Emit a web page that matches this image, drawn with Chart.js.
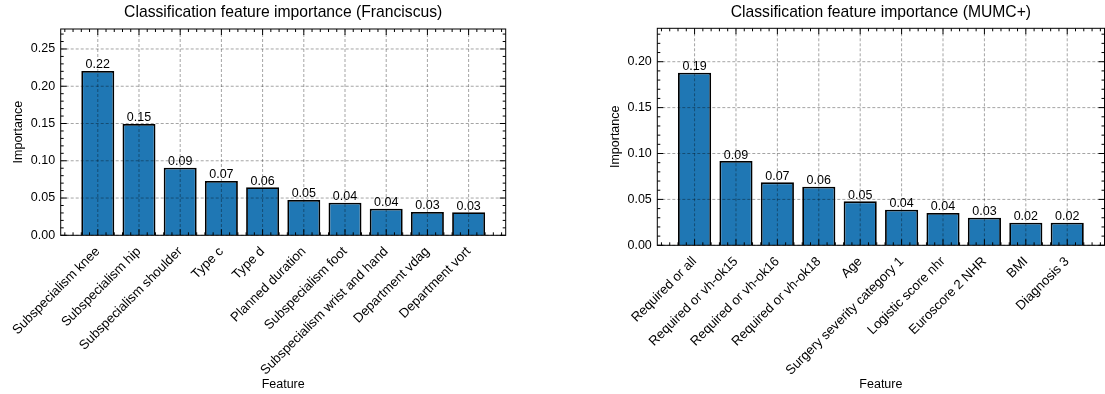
<!DOCTYPE html>
<html>
<head>
<meta charset="utf-8">
<script src="https://cdn.jsdelivr.net/npm/chart.js@4.4.1/dist/chart.umd.min.js"></script>
<style>
  html, body { margin: 0; padding: 0; background: #fff; overflow: hidden; }
  .panel { position: absolute; top: 0; height: 394px; }
</style>
</head>
<body>
<div class="panel" style="left:0;width:552px"><canvas id="left" width="552" height="394"></canvas></div>
<div class="panel" style="left:555px;width:553px"><canvas id="right" width="553" height="394"></canvas></div>
<script>
// Franciscus feature importances
const franciscusFeatures = [
    "Subspecialism knee", "Subspecialism hip", "Subspecialism shoulder", "Type c", "Type d",
    "Planned duration", "Subspecialism foot", "Subspecialism wrist and hand", "Department vdag", "Department vort"
];
const franciscusImportance = [0.2205, 0.1494, 0.0907, 0.0729, 0.0644, 0.0474, 0.0438, 0.0357, 0.0313, 0.0309];
const franciscusYTicks = [0, 0.05, 0.10, 0.15, 0.20, 0.25];

// MUMC+ feature importances
const mumcFeatures = [
    "Required or all", "Required or vh-ok15", "Required or vh-ok16", "Required or vh-ok18", "Age",
    "Surgery severity category 1", "Logistic score nhr", "Euroscore 2 NHR", "BMI", "Diagnosis 3"
];
const mumcImportance = [0.188, 0.0918, 0.0686, 0.0638, 0.0479, 0.0388, 0.0352, 0.0301, 0.0246, 0.0245];
const mumcYTicks = [0, 0.05, 0.10, 0.15, 0.20];

Chart.defaults.font.family = "'Liberation Sans', Arial, sans-serif";
Chart.defaults.font.size = 12.5;
Chart.defaults.color = "#000";

// grid (on top of bars), frame, inward ticks and value labels
const axesDecor = {
    id: "axesDecor",
    afterDatasetsDraw(chart) {
        const ctx = chart.ctx;
        const a = chart.chartArea;
        const xs = chart.scales.x;
        const ys = chart.scales.y;
        const line = (x1, y1, x2, y2) => { ctx.beginPath(); ctx.moveTo(x1, y1); ctx.lineTo(x2, y2); ctx.stroke(); };
        ctx.save();

        ctx.strokeStyle = "rgba(0,0,0,0.45)";
        ctx.lineWidth = 0.8;
        ctx.setLineDash([3, 2]);
        xs.ticks.forEach(t => { const px = xs.getPixelForValue(t.value); line(px, a.top, px, a.bottom); });
        ys.ticks.forEach(t => { const py = ys.getPixelForValue(t.value); line(a.left, py, a.right, py); });
        ctx.setLineDash([]);

        ctx.strokeStyle = "#000";
        ctx.lineWidth = 1;
        ctx.strokeRect(a.left, a.top, a.right - a.left, a.bottom - a.top);

        // x ticks (major at categories, minor every 0.2)
        for (let k = Math.ceil(xs.min / 0.2); k * 0.2 <= xs.max + 1e-9; k++) {
            const v = k * 0.2;
            const major = Math.abs(v - Math.round(v)) < 1e-6;
            const len = major ? 6 : 3;
            const px = xs.getPixelForValue(v);
            line(px, a.bottom, px, a.bottom - len);
            line(px, a.top, px, a.top + len);
        }
        // y ticks (major every 0.05, minor every 0.01)
        for (let k = 0; k * 0.01 <= ys.max + 1e-9; k++) {
            const len = k % 5 === 0 ? 6 : 3;
            const py = ys.getPixelForValue(k * 0.01);
            line(a.left, py, a.left + len, py);
            line(a.right, py, a.right - len, py);
        }

        // value labels above bars
        ctx.fillStyle = "#000";
        ctx.font = "12.5px 'Liberation Sans', Arial, sans-serif";
        ctx.textAlign = "center";
        ctx.textBaseline = "alphabetic";
        const ds = chart.data.datasets[0];
        chart.getDatasetMeta(0).data.forEach((bar, i) => {
            ctx.fillText(ds.data[i].y.toFixed(2), bar.x, bar.y - 2.5);
        });
        ctx.restore();
    }
};

function buildChart(id, title, features, values, yMax, yTicks, geom) {
    return new Chart(document.getElementById(id), {
        type: "bar",
        data: {
            datasets: [{
                data: values.map((v, i) => ({ x: i, y: v })),
                backgroundColor: "#1f77b4",
                borderColor: "#000",
                borderWidth: 1.8,
                categoryPercentage: 1,
                barPercentage: 0.8
            }]
        },
        options: {
            responsive: false,
            animation: false,
            layout: { padding: { left: geom.padLeft, right: geom.padRight, top: 0, bottom: geom.padBottom } },
            plugins: {
                legend: { display: false },
                tooltip: { enabled: false },
                title: {
                    display: true,
                    text: title,
                    fullSize: false,
                    color: "#000",
                    font: { size: 15.7, weight: "normal" },
                    padding: { top: 3.6, bottom: geom.titleGap }
                }
            },
            scales: {
                x: {
                    type: "linear",
                    offset: false,
                    min: -0.9,
                    max: 9.9,
                    grid: { display: false, offset: false, drawTicks: false },
                    border: { display: false },
                    afterBuildTicks: s => { s.ticks = features.map((_, i) => ({ value: i })); },
                    afterFit: s => { s.height = geom.xHeight; },
                    ticks: {
                        autoSkip: false,
                        minRotation: 45,
                        maxRotation: 45,
                        padding: 8.5,
                        font: { size: 13.2 },
                        callback: v => features[v]
                    },
                    title: { display: true, text: "Feature", padding: 0 }
                },
                y: {
                    min: 0,
                    max: yMax,
                    grid: { display: false, drawTicks: false },
                    border: { display: false },
                    afterBuildTicks: s => { s.ticks = yTicks.map(v => ({ value: v })); },
                    afterFit: s => { s.width = geom.yWidth; },
                    ticks: { padding: 5.5, callback: v => v.toFixed(2) },
                    title: { display: true, text: "Importance", padding: 0 }
                }
            }
        },
        plugins: [axesDecor]
    });
}

buildChart("left", "Classification feature importance (Franciscus)", franciscusFeatures, franciscusImportance,
    0.2768, franciscusYTicks,
    { padLeft: 11, yWidth: 49.7, padRight: 46.3, padBottom: 2, xHeight: 156.7, titleGap: 6.56 });

buildChart("right", "Classification feature importance (MUMC+)", mumcFeatures, mumcImportance,
    0.2364, mumcYTicks,
    { padLeft: 53.5, yWidth: 48.8, padRight: 3.5, padBottom: 2, xHeight: 146.7, titleGap: 5.86 });
</script>
</body>
</html>
